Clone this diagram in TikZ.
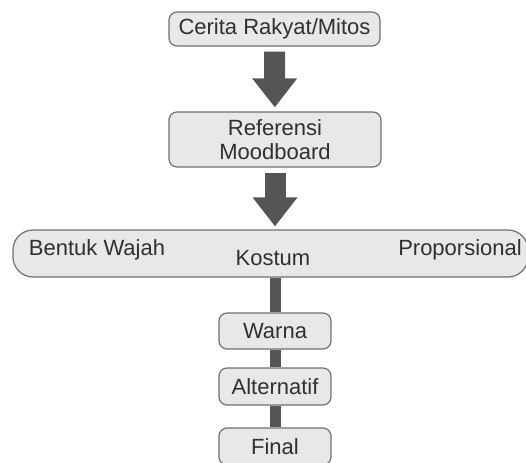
\documentclass[tikz,border=0pt]{standalone}
\usepackage{fontspec}
\setmainfont{Liberation Sans}
\usepackage{xcolor}
\usepackage{tikz}
\usetikzlibrary{arrows.meta}

\definecolor{boxfill}{HTML}{E8E8E8}
\definecolor{boxline}{HTML}{707070}
\definecolor{arrowgray}{HTML}{555555}
\definecolor{textgray}{HTML}{303030}

\begin{document}
\begin{tikzpicture}[x=1pt, y=-1pt,
    box/.style={draw=boxline, fill=boxfill, line width=1.2pt, rounded corners=8pt,
      inner sep=0pt, align=center, text=textgray, font=\fontsize{22}{24}\selectfont},
    bigarrow/.style={draw=arrowgray, line width=21pt,
      -{Triangle[length=29pt, width=43pt, fill=arrowgray]}},
    bar/.style={draw=arrowgray, line width=11pt},
    lbl/.style={text=textgray, font=\fontsize{22}{24}\selectfont, inner sep=0pt}]
  \useasboundingbox (0,0) rectangle (526,462);
  % Main boxes
  \node[box, minimum width=211pt, minimum height=34pt] (cerita) at (274.5,29) {Cerita Rakyat/Mitos};
  \node[box, minimum width=212pt, minimum height=55pt] (referensi) at (275,139.5) {Referensi\\Moodboard};
  % Wide box with the three aspects
  \node[box, rounded corners=20pt, minimum width=515pt, minimum height=47pt] (aspek) at (270.5,253.5) {};
  \node[lbl] (wajah) at (97,250) {Bentuk Wajah};
  \node[lbl] (kostum) at (273,258) {Kostum};
  \node[lbl] (proporsi) at (460,250) {Proporsional};
  % Lower boxes
  \node[box, minimum width=112pt, minimum height=36pt] (warna) at (275,331) {Warna};
  \node[box, minimum width=112pt, minimum height=37pt] (alternatif) at (275,386.5) {Alternatif};
  \node[box, minimum width=112pt, minimum height=37pt] (final) at (275,446.5) {Final};
  % Arrows
  \draw[bigarrow, shorten <=5pt, shorten >=4pt] (cerita) -- (referensi);
  \draw[bigarrow, shorten <=5pt, shorten >=3pt] (referensi) -- (aspek.north -| referensi);
  % Bars
  \draw[bar] (aspek.south -| warna) -- (warna.north);
  \draw[bar] (warna.south) -- (alternatif.north);
  \draw[bar] (alternatif.south) -- (final.north);
\end{tikzpicture}
\end{document}
